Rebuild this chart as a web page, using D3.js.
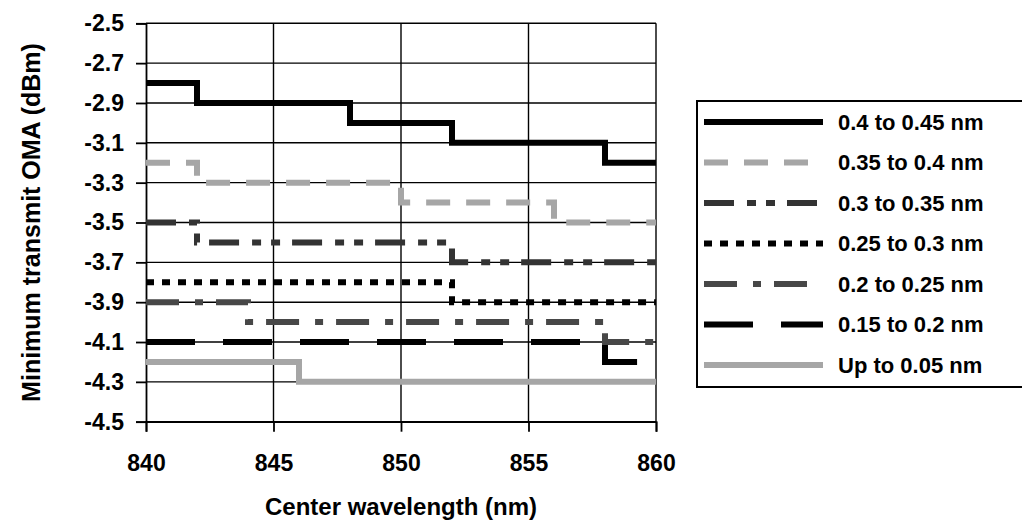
<!DOCTYPE html>
<html><head><meta charset="utf-8">
<script src="https://cdn.jsdelivr.net/npm/d3@7"></script>
<style>body{margin:0;background:#fff}svg{display:block}text{font-family:"Liberation Sans",Arial,sans-serif;font-weight:bold;fill:#000}</style>
</head><body>
<svg id="c" width="1022" height="525"></svg>
<script>
// ---- data ----
const seriesNames = ["0.4 to 0.45 nm","0.35 to 0.4 nm","0.3 to 0.35 nm","0.25 to 0.3 nm","0.2 to 0.25 nm","0.15 to 0.2 nm","Up to 0.05 nm"];
// step breakpoints (wavelength, nm) and value holding from that wavelength (dBm)
const s1x = [840,842,848,852,858,860], s1y = [-2.8,-2.9,-3.0,-3.1,-3.2,-3.2];
const s2x = [840,842,850,856,860],     s2y = [-3.2,-3.3,-3.4,-3.5,-3.5];
const s3x = [840,842,852,860],         s3y = [-3.5,-3.6,-3.7,-3.7];
const s4x = [840,852,860],             s4y = [-3.8,-3.9,-3.9];
const s5x = [840,844,858,860],         s5y = [-3.9,-4.0,-4.1,-4.1];
const s6x = [840,858,860],             s6y = [-4.1,-4.2,-4.2];
const s7x = [840,846,860],             s7y = [-4.2,-4.3,-4.3];
const xTicks = [840,845,850,855,860];
const yTicks = [-2.5,-2.7,-2.9,-3.1,-3.3,-3.5,-3.7,-3.9,-4.1,-4.3,-4.5];
const xTitle = "Center wavelength (nm)";
const yTitle = "Minimum transmit OMA (dBm)";

// ---- styles ----
const styles = [
  {color:"#000000", dash:null, w:6},
  {color:"#a6a6a6", dash:"24,16", w:6},
  {color:"#333333", dash:"30,13,9,10,9,12", w:6},
  {color:"#000000", dash:"8,8", w:6},
  {color:"#474747", dash:"33,16,8,13", w:6},
  {color:"#000000", dash:"49,28", w:6},
  {color:"#a6a6a6", dash:null, w:6}
];
const seriesX = [s1x,s2x,s3x,s4x,s5x,s6x,s7x];
const seriesY = [s1y,s2y,s3y,s4y,s5y,s6y,s7y];

const svg = d3.select("#c");
const L=146, R=656, T=23.3, B=421.7;
const x = d3.scaleLinear().domain([840,860]).range([L,R]);
const y = d3.scaleLinear().domain([-4.5,-2.5]).range([B,T]);

// gridlines
const g = svg.append("g");
g.selectAll("line.h").data(yTicks).join("line")
  .attr("x1",L).attr("x2",R).attr("y1",d=>y(d)).attr("y2",d=>y(d))
  .attr("stroke","#000").attr("stroke-width",1.4);
g.selectAll("line.v").data(xTicks.slice(1)).join("line")
  .attr("x1",d=>x(d)).attr("x2",d=>x(d)).attr("y1",T).attr("y2",B)
  .attr("stroke","#000").attr("stroke-width",1.4);

// axes
const fmtY = d => d3.format(".1f")(d).replace("\u2212","-");
const yAxis = d3.axisLeft(y).tickValues(yTicks).tickSize(10).tickPadding(12).tickFormat(fmtY);
const xAxis = d3.axisBottom(x).tickValues(xTicks).tickSize(10).tickPadding(23).tickFormat(d3.format("d"));
const ya = svg.append("g").attr("transform",`translate(${L},0)`).call(yAxis);
const xa = svg.append("g").attr("transform",`translate(0,${B})`).call(xAxis);
[ya,xa].forEach(a=>{
  a.select(".domain").attr("stroke","#000").attr("stroke-width",1.8);
  a.selectAll(".tick line").attr("stroke","#000").attr("stroke-width",1.8);
  a.selectAll(".tick text").style("font-size","23px").style("font-weight","bold").attr("fill","#000")
   .style("font-family","'Liberation Sans',Arial,sans-serif");
});

// series
const line = d3.line().x(d=>x(d[0])).y(d=>y(d[1])).curve(d3.curveStepAfter);
seriesX.forEach((sx,i)=>{
  const pts = sx.map((v,j)=>[v,seriesY[i][j]]);
  svg.append("path").attr("d",line(pts)).attr("fill","none")
    .attr("stroke",styles[i].color).attr("stroke-width",styles[i].w)
    .attr("stroke-dasharray",styles[i].dash)
    .attr("stroke-linejoin","miter");
});

// titles
svg.append("text").attr("x",(L+R)/2).attr("y",515).attr("text-anchor","middle")
  .style("font-size","24px").text(xTitle);
svg.append("text").attr("transform",`translate(40,${(T+B)/2}) rotate(-90)`).attr("text-anchor","middle")
  .style("font-size","25px").text(yTitle);

// legend
const lg = svg.append("g");
lg.append("rect").attr("x",697).attr("y",101).attr("width",340).attr("height",286)
  .attr("fill","#fff").attr("stroke","#000").attr("stroke-width",2);
seriesNames.forEach((n,i)=>{
  const cy = 122 + i*40.5;
  lg.append("line").attr("x1",704).attr("x2",823).attr("y1",cy).attr("y2",cy)
    .attr("stroke",styles[i].color).attr("stroke-width",styles[i].w)
    .attr("stroke-dasharray",styles[i].dash);
  lg.append("text").attr("x",838).attr("y",cy).attr("dy","0.36em")
    .style("font-size","22px").text(n);
});
</script>
</body></html>
